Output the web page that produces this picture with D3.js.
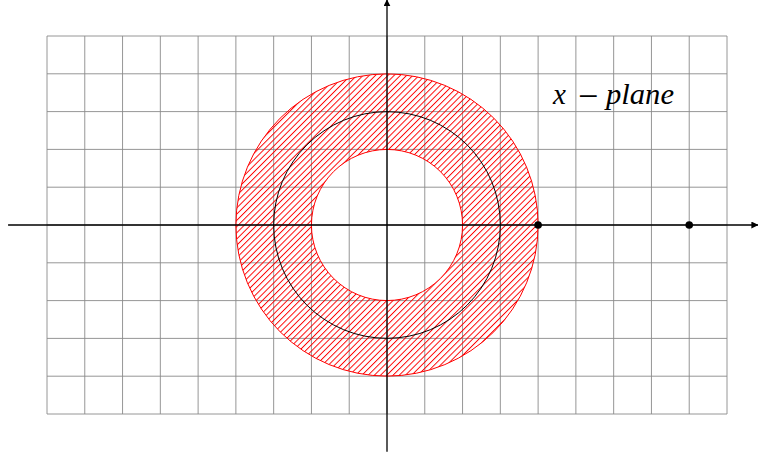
<!DOCTYPE html>
<html>
<head>
<meta charset="utf-8">
<script src="https://d3js.org/d3.v7.min.js"></script>
<style>
  body { margin: 0; background: white; }
  svg { display: block; }
</style>
</head>
<body>
<svg></svg>
<script>
  const w = 758, h = 455;

  // data
  const gridX = d3.range(-9, 10);       // vertical grid lines
  const gridY = d3.range(-5, 6);        // horizontal grid lines
  const annulus = [2, 4];               // inner / outer radius of the hatched ring
  const circleR = [3];                  // black circle
  const points = [[4, 0], [8, 0]];

  const x = d3.scaleLinear().domain([-9, 9]).range([47, 727]);
  const y = d3.scaleLinear().domain([-5, 5]).range([414, 36]);
  const unit = x(1) - x(0);

  const svg = d3.select("svg").attr("width", w).attr("height", h);

  const defs = svg.append("defs");
  const pat = defs.append("pattern")
    .attr("id", "hatch")
    .attr("patternUnits", "userSpaceOnUse")
    .attr("width", 4.4).attr("height", 4.4)
    .attr("patternTransform", "rotate(-45)");
  pat.append("rect")
    .attr("x", 0).attr("y", 0)
    .attr("width", 4.4).attr("height", 0.95)
    .attr("fill", "#ff0000");

  defs.append("marker")
    .attr("id", "arrow")
    .attr("viewBox", "0 0 10 10")
    .attr("refX", 10).attr("refY", 5)
    .attr("markerWidth", 7).attr("markerHeight", 7)
    .attr("markerUnits", "userSpaceOnUse")
    .attr("orient", "auto")
    .append("path").attr("d", "M0,0 L10,5 L0,10 Z").attr("fill", "black");

  // grid
  const grid = svg.append("g").attr("stroke", "#8a8a8a").attr("stroke-width", 0.9);
  grid.selectAll("line.v").data(gridX).enter().append("line")
    .attr("x1", d => x(d)).attr("x2", d => x(d))
    .attr("y1", y(-5)).attr("y2", y(5));
  grid.selectAll("line.h").data(gridY).enter().append("line")
    .attr("x1", x(-9)).attr("x2", x(9))
    .attr("y1", d => y(d)).attr("y2", d => y(d));

  // hatched ring
  const arc = d3.arc()
    .innerRadius(annulus[0] * unit)
    .outerRadius(annulus[1] * unit)
    .startAngle(0).endAngle(2 * Math.PI);
  svg.append("path")
    .attr("transform", `translate(${x(0)},${y(0)})`)
    .attr("d", arc())
    .attr("fill", "url(#hatch)");
  svg.selectAll("circle.ring").data(annulus).enter().append("circle")
    .attr("cx", x(0)).attr("cy", y(0))
    .attr("r", d => d * unit)
    .attr("fill", "none").attr("stroke", "red").attr("stroke-width", 1);

  svg.selectAll("circle.blk").data(circleR).enter().append("circle")
    .attr("cx", x(0)).attr("cy", y(0))
    .attr("r", d => d * unit)
    .attr("fill", "none").attr("stroke", "black").attr("stroke-width", 1);

  // axes
  svg.append("line")
    .attr("x1", x(-10.03)).attr("x2", x(9.83))
    .attr("y1", y(0)).attr("y2", y(0))
    .attr("stroke", "black").attr("stroke-width", 1.3)
    .attr("marker-end", "url(#arrow)");
  svg.append("line")
    .attr("x1", x(0)).attr("x2", x(0))
    .attr("y1", y(-6)).attr("y2", y(5.97))
    .attr("stroke", "black").attr("stroke-width", 1.3)
    .attr("marker-end", "url(#arrow)");

  svg.selectAll("circle.pt").data(points).enter().append("circle")
    .attr("cx", d => x(d[0])).attr("cy", d => y(d[1]))
    .attr("r", 3.8).attr("fill", "black");

  // label  x − plane
  const base = y(3.2);
  const lab = svg.append("g")
    .attr("font-family", "'Liberation Serif', serif")
    .attr("font-size", 29);
  lab.append("text").attr("x", 553).attr("y", base).attr("font-style", "italic").text("x");
  lab.append("text").attr("x", 578).attr("y", base + 3.5).attr("font-size", 36).text("\u2212");
  lab.append("text").attr("x", 606).attr("y", base).attr("font-style", "italic")
    .attr("textLength", 68).attr("lengthAdjust", "spacingAndGlyphs").text("plane");
</script>
</body>
</html>
